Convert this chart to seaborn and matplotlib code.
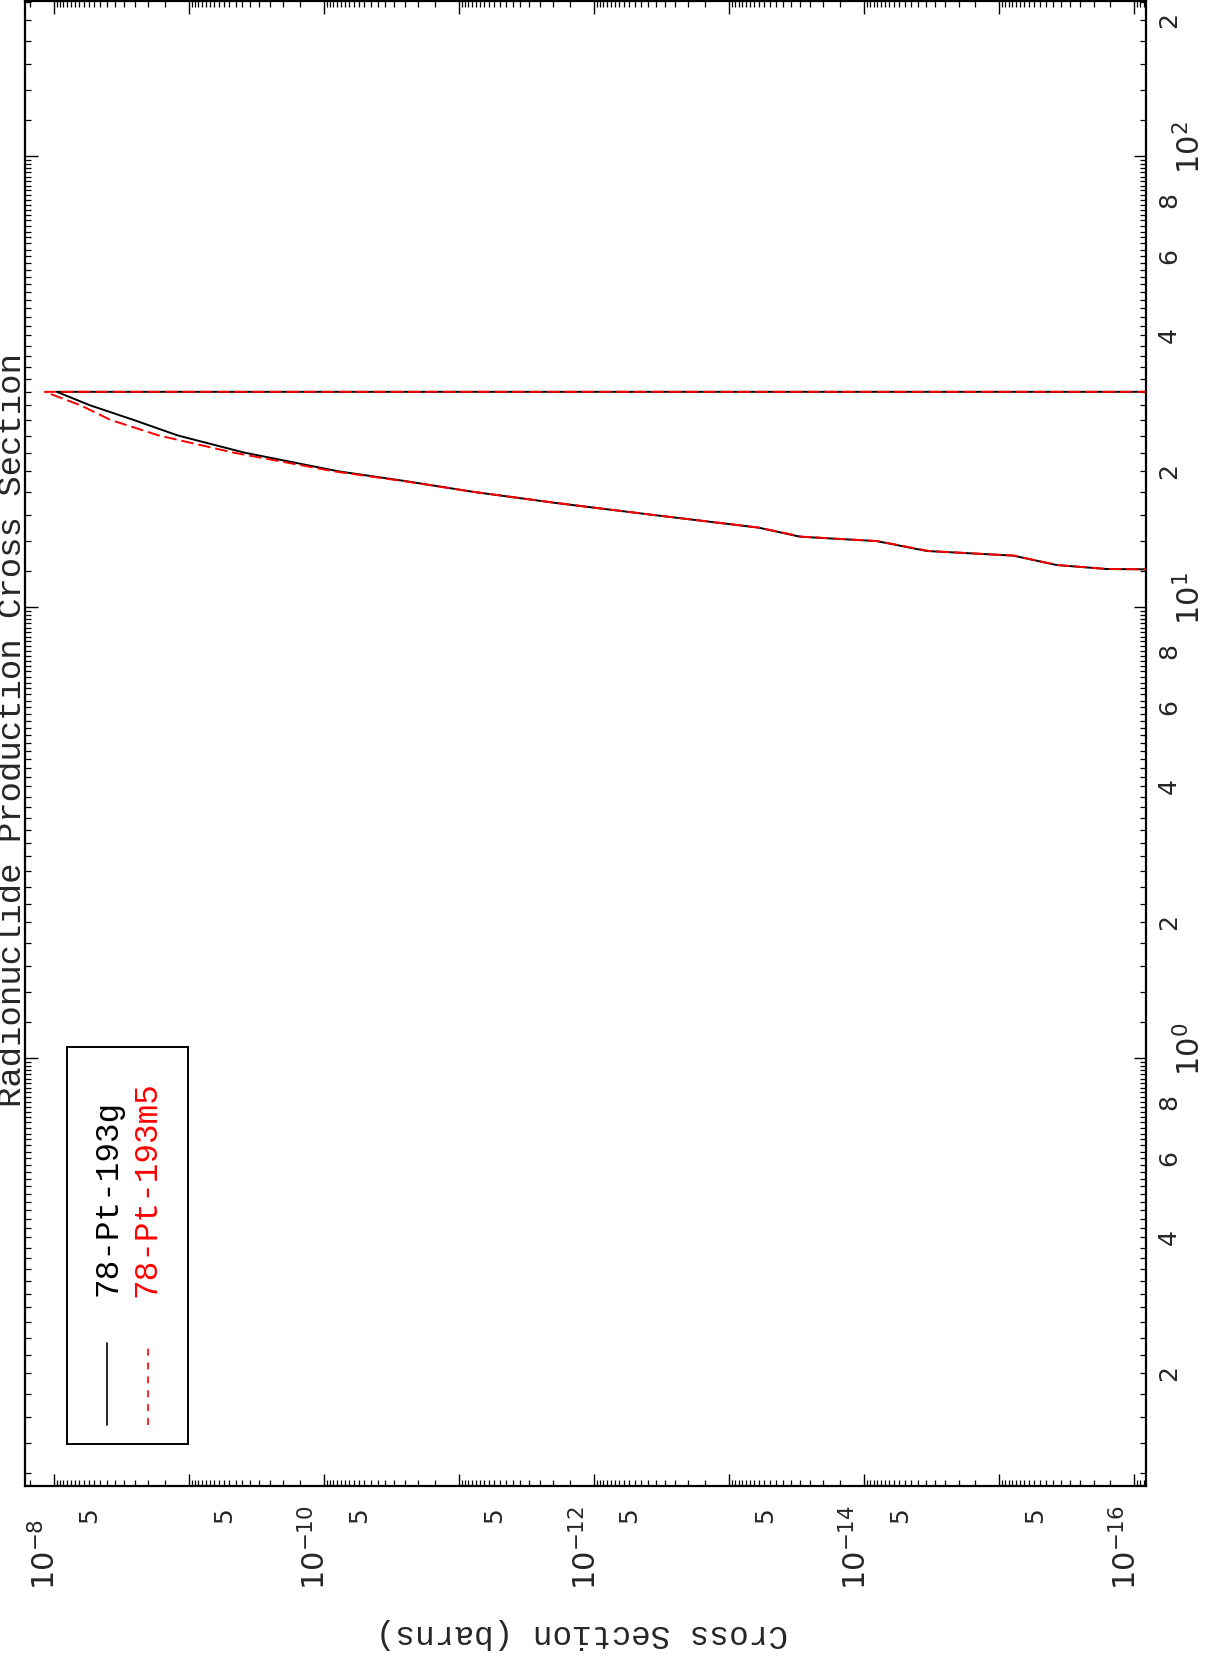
import matplotlib
matplotlib.use("Agg")
import numpy as np
import pandas as pd
import seaborn as sns
import matplotlib.pyplot as plt
from matplotlib import transforms
from matplotlib.ticker import LogLocator, NullFormatter
from matplotlib.patches import Rectangle
from matplotlib.lines import Line2D

# ---------------- data ----------------
series_names = ["78-Pt-193g", "78-Pt-193m5"]
series_colors = ["black", "red"]

energy_g = [12.0, 12.14, 12.39, 13.0, 13.31, 14.0, 14.32, 15.0, 16.0, 17.0, 18.0,
            19.0, 20.0, 22.0, 24.0, 26.0, 28.0, 30.0, 30.0]
xs_g = [1e-18, 1.60e-16, 3.76e-16, 7.87e-16, 3.43e-15, 8.07e-15, 2.99e-14, 6.07e-14,
        3.64e-13, 1.89e-12, 7.82e-12, 2.43e-11, 7.85e-11, 3.89e-10, 1.20e-9,
        2.57e-9, 5.37e-9, 9.48e-9, 1e-20]

energy_m = [12.0, 12.14, 12.39, 13.0, 13.31, 14.0, 14.32, 15.0, 16.0, 17.0, 18.0,
            19.0, 20.0, 22.0, 24.0, 26.0, 28.0, 30.0, 30.0]
xs_m = [1e-18, 1.58e-16, 3.72e-16, 7.76e-16, 3.31e-15, 7.94e-15, 2.88e-14, 6.03e-14,
        3.63e-13, 1.86e-12, 7.76e-12, 2.51e-11, 8.51e-11, 4.68e-10, 1.66e-9,
        3.80e-9, 6.31e-9, 1.16e-8, 1e-20]

xs_major_exp = [-8, -10, -12, -14, -16]
xs_five_exp = [-9, -10, -11, -12, -13, -14, -15, -16]
energy_major_exp = [0, 1, 2]
energy_minor_vals = [0.2, 0.4, 0.6, 0.8, 2, 4, 6, 8, 20, 40, 60, 80, 200]

title_text = "Radionuclide Production Cross Section"
xlabel_text = "Cross Section (barns)"

# ---------------- figure ----------------
sns.set_theme(style="white")
plt.rcParams["font.family"] = ["DejaVu Sans"]
plt.rcParams["mathtext.fontset"] = "dejavusans"
plt.rcParams["lines.scale_dashes"] = False

W, H = 1207, 1659
fig = plt.figure(figsize=(W / 100, H / 100), dpi=100)
fig.patch.set_facecolor("white")


def fx(px):
    return px / W


def fy(py):
    return 1 - py / H


ax_l, ax_r, ax_t, ax_b = 25, 1146, 1, 1486
ax = fig.add_axes([fx(ax_l), fy(ax_b), (ax_r - ax_l) / W, (ax_b - ax_t) / H])
ax.set_facecolor("white")
ax.set_xscale("log")
ax.set_yscale("log")

df_g = pd.DataFrame({"xs": xs_g, "energy": energy_g})
df_m = pd.DataFrame({"xs": xs_m, "energy": energy_m})
sns.lineplot(data=df_g, x="xs", y="energy", sort=False, estimator=None,
             color=series_colors[0], lw=1.4, ax=ax, zorder=3)
sns.lineplot(data=df_m, x="xs", y="energy", sort=False, estimator=None,
             color=series_colors[1], lw=1.4, ax=ax, zorder=4)
ax.lines[-1].set_dashes([9, 3.5])

ax.set_xlim(10 ** -7.788, 10 ** -16.087)
ax.set_ylim(10 ** -0.949, 10 ** 2.3437)
ax.set_xlabel("")
ax.set_ylabel("")

ax.xaxis.set_major_locator(LogLocator(base=10, numticks=40))
ax.xaxis.set_minor_locator(LogLocator(base=10, subs=np.arange(1.5, 10, 0.5), numticks=400))
ax.yaxis.set_major_locator(LogLocator(base=10, numticks=40))
ax.yaxis.set_minor_locator(LogLocator(base=10, subs=np.arange(1.2, 10, 0.2), numticks=400))
ax.xaxis.set_major_formatter(NullFormatter())
ax.xaxis.set_minor_formatter(NullFormatter())
ax.yaxis.set_major_formatter(NullFormatter())
ax.yaxis.set_minor_formatter(NullFormatter())
ax.tick_params(which="both", direction="in", top=True, bottom=True, left=True, right=True,
               labelbottom=False, labelleft=False, labeltop=False, labelright=False,
               color="black")
ax.tick_params(which="major", length=9, width=1.0)
ax.tick_params(which="minor", length=4.3, width=0.9)
for s in ax.spines.values():
    s.set_linewidth(1.6)
    s.set_color("black")
ax.grid(False)

# ---------------- tick labels (rotated) ----------------
dpi_t = fig.dpi_scale_trans
tx = transforms.blended_transform_factory(ax.transData, fig.transFigure)
for e in xs_major_exp:
    ax.text(10.0 ** e, fy(1590), r"$10^{%d}$" % e,
            transform=tx + transforms.ScaledTranslation(2 / 100, 0, dpi_t),
            rotation=90, rotation_mode="anchor", ha="left", va="baseline",
            fontsize=22, clip_on=False)
for e in xs_five_exp:
    ax.text(5 * 10.0 ** e, fy(1523), "5",
            transform=tx + transforms.ScaledTranslation(2 / 100, 0, dpi_t),
            rotation=90, rotation_mode="anchor", ha="left", va="baseline",
            fontsize=18, clip_on=False)

ty = transforms.blended_transform_factory(ax.transAxes, ax.transData)
axw = ax_r - ax_l
for v in energy_minor_vals:
    lab = str(int(v * 10) if v < 1 else int(v / 10 ** int(np.floor(np.log10(v)))))
    ax.text(1 + 30 / axw, v, lab, transform=ty, rotation=90, rotation_mode="anchor",
            ha="center", va="baseline", fontsize=18, clip_on=False)
for e in energy_major_exp:
    ax.text(1 + 54 / axw, 10.0 ** e, r"$10^{%d}$" % e,
            transform=ty + transforms.ScaledTranslation(0, -18 / 100, dpi_t),
            rotation=90, rotation_mode="anchor", ha="left", va="baseline",
            fontsize=22, clip_on=False)

# ---------------- axis label and title ----------------
fig.text(fx(582), fy(1634), xlabel_text, rotation=180, rotation_mode="anchor",
         ha="center", va="center", family="Liberation Mono", fontsize=23.5)
fig.text(fx(21), fy(730), title_text, rotation=90, rotation_mode="anchor",
         ha="center", va="baseline", family="Liberation Mono", fontsize=24.5)

# ---------------- legend (rotated, drawn by hand) ----------------
ah = ax_b - ax_t


def axx(px):
    return (px - ax_l) / axw


def axy(py):
    return (ax_b - py) / ah


ax.add_patch(Rectangle((axx(66.6), axy(1444)), axx(188) - axx(66.6), axy(1047) - axy(1444),
                       transform=ax.transAxes, fill=False, ec="black", lw=1.4, zorder=5))
ax.add_line(Line2D([axx(106.7)] * 2, [axy(1425), axy(1343)], transform=ax.transAxes,
                   color=series_colors[0], lw=1.2, zorder=5))
ax.add_line(Line2D([axx(147.7)] * 2, [axy(1425), axy(1343)], transform=ax.transAxes,
                   color=series_colors[1], lw=1.2, dashes=[5, 5], zorder=5))
ax.text(axx(116), axy(1296), series_names[0], transform=ax.transAxes, rotation=90,
        rotation_mode="anchor", ha="left", va="baseline", family="Liberation Mono",
        fontsize=23.5, color=series_colors[0], zorder=6)
ax.text(axx(155), axy(1297), series_names[1], transform=ax.transAxes, rotation=90,
        rotation_mode="anchor", ha="left", va="baseline", family="Liberation Mono",
        fontsize=23.5, color=series_colors[1], zorder=6)

fig.savefig("out.png", dpi=100, facecolor="white")
